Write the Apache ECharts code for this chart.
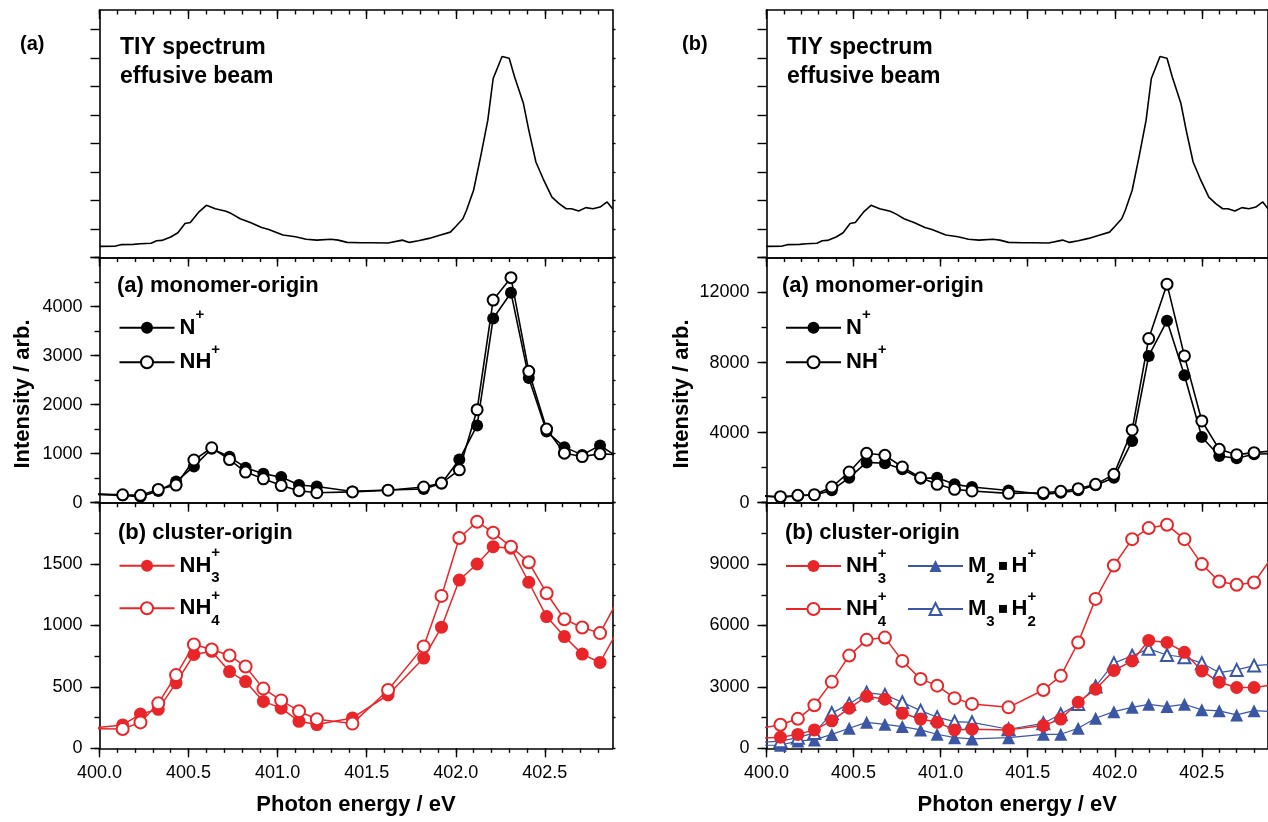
<!DOCTYPE html>
<html>
<head>
<meta charset="utf-8">
<title>TIY spectrum and partial ion yields</title>
<script src="https://cdn.jsdelivr.net/npm/echarts@6.0.0/dist/echarts.min.js"></script>
<style>
  html, body { margin: 0; padding: 0; background: #fff; }
  #main { width: 1268px; height: 822px; }
</style>
</head>
<body>
<div id="main"></div>
<script>
// ---- data ----

// TIY spectrum of the effusive beam (arbitrary units, same curve in both columns)
var tiyE = [400.00, 400.09, 400.12, 400.19, 400.23, 400.29, 400.32, 400.35, 400.40, 400.44,
            400.48, 400.51, 400.56, 400.60, 400.65, 400.71, 400.74, 400.79, 400.85, 400.91,
            400.95, 401.03, 401.10, 401.16, 401.22, 401.30, 401.34, 401.39, 401.47, 401.53,
            401.62, 401.70, 401.74, 401.79, 401.85, 401.91, 401.97, 402.00, 402.04, 402.06,
            402.10, 402.14, 402.18, 402.21, 402.26, 402.30, 402.33, 402.38, 402.41, 402.45,
            402.49, 402.54, 402.58, 402.62, 402.65, 402.69, 402.73, 402.77, 402.81, 402.85, 402.88];
var tiyI = [0.39, 0.40, 0.45, 0.46, 0.48, 0.50, 0.59, 0.60, 0.72, 0.87,
            1.19, 1.23, 1.61, 1.83, 1.71, 1.62, 1.54, 1.36, 1.22, 1.05,
            0.98, 0.79, 0.73, 0.64, 0.61, 0.64, 0.61, 0.53, 0.52, 0.52,
            0.51, 0.61, 0.53, 0.59, 0.67, 0.78, 0.89, 1.09, 1.36, 1.65,
            2.36, 3.55, 4.82, 6.28, 7.05, 6.99, 6.34, 5.40, 4.47, 3.35,
            2.77, 2.12, 1.89, 1.71, 1.71, 1.63, 1.75, 1.71, 1.77, 1.95, 1.71];

// column (a): photon energies of the ion yield points
var eA = [399.93, 400.13, 400.23, 400.33, 400.43, 400.53, 400.63, 400.73, 400.82, 400.92,
          401.02, 401.12, 401.22, 401.42, 401.62, 401.82, 401.92, 402.02, 402.12, 402.21,
          402.31, 402.41, 402.51, 402.61, 402.71, 402.81, 402.91];
var nPlusA  = [180, 150, 120, 240, 430, 740, 1100, 935, 714, 589, 522, 362, 329, 230, 260, 280, 390, 880,
               1575, 3757, 4282, 2544, 1452, 1133, 975, 1166, 930];
var nhPlusA = [180, 160, 150, 270, 360, 870, 1120, 880, 624, 487, 350, 245, 204, 220, 255, 320, 400, 670,
               1896, 4131, 4589, 2679, 1501, 1010, 941, 996, 980];
var nh3A = [160, 190, 279, 317, 533, 764, 790, 625, 543, 382, 327, 220, 193, 247, 434, 735, 986, 1370,
            1501, 1642, 1630, 1352, 1073, 910, 767, 699, 960];
var nh4A = [160, 157, 211, 366, 596, 845, 805, 756, 666, 486, 390, 302, 237, 201, 475, 830, 1241, 1713,
            1845, 1756, 1642, 1515, 1263, 1051, 984, 938, 1208];

// column (b)
var eB = [399.98, 400.08, 400.18, 400.275, 400.375, 400.475, 400.575, 400.68, 400.78, 400.885,
          400.98, 401.08, 401.18, 401.39, 401.59, 401.69, 401.79, 401.89, 401.995, 402.10,
          402.195, 402.30, 402.40, 402.50, 402.60, 402.70, 402.80, 402.90];
var nPlusB  = [380, 300, 400, 440, 705, 1429, 2300, 2250, 1905, 1372, 1429, 1048, 895, 700, 476, 572, 705, 991,
               1429, 3524, 8382, 10382, 7277, 3753, 2667, 2534, 2762, 2800];
var nhPlusB = [400, 343, 419, 457, 895, 1753, 2819, 2705, 2038, 1429, 1048, 762, 667, 533, 572, 648, 800, 1048,
               1619, 4153, 9373, 12478, 8382, 4667, 3048, 2743, 2858, 2950];
var nh3B  = [500, 540, 680, 900, 1343, 1960, 2540, 2400, 1710, 1430, 1270, 900, 930, 900, 1110, 1430, 2250, 2890,
             3800, 4270, 5270, 5170, 4690, 3780, 3230, 2970, 2970, 3100];
var nh4B  = [1000, 1150, 1440, 2100, 3247, 4530, 5300, 5410, 4270, 3390, 3060, 2450, 2170, 2000, 2850, 3540, 5170, 7300,
             8930, 10220, 10760, 10920, 10220, 9000, 8150, 7990, 8100, 9300];
var m2hB  = [150, 150, 360, 410, 680, 980, 1270, 1170, 1060, 900, 685, 520, 460, 520, 685, 685, 980, 1470,
             1790, 2000, 2150, 2040, 2150, 1880, 1830, 1630, 1840, 1800];
var m3h2B = [300, 350, 520, 750, 1720, 2170, 2720, 2610, 2250, 1840, 1520, 1300, 1270, 930, 1220, 1660, 2170, 3020,
             4160, 4520, 4860, 4560, 4450, 4160, 3700, 3830, 4040, 4100];

// tick positions and labels
var xMajor = [400, 400.5, 401, 401.5, 402, 402.5];
var xLabels = [400, 400.5, 401, 401.5, 402, 402.5];
var yMax    = [[8.684, 5000, 2000], [8.684, 14000, 12000]];
var yLabels = [[[], [0, 1000, 2000, 3000, 4000], [0, 500, 1000, 1500]],
               [[], [0, 4000, 8000, 12000], [0, 3000, 6000, 9000]]];
var yMajor  = [[[0, 1, 2, 3, 4, 5, 6, 7, 8], [0, 1000, 2000, 3000, 4000, 5000], [0, 500, 1000, 1500, 2000]],
               [[0, 1, 2, 3, 4, 5, 6, 7, 8], [0, 4000, 8000, 12000, 14000], [0, 3000, 6000, 9000, 12000]]];
var yMinorStep = [[0, 500, 250], [0, 2000, 1500]];

// ---- layout ----
var FONT = '"Liberation Sans", Arial, Helvetica, sans-serif';
var RED = '#e8262a', BLUE = '#3b56a5', BLACK = '#000';
var X_MIN = 400, X_MAX = 402.88;
var colLeft = [99.5, 766.5];
var colWidth = 513;
var rowTop = [10, 257.5, 502.7];
var rowHeight = [247.5, 245.2, 245.6];

function steps(a, b, d) {
  var out = [];
  for (var v = a; v <= b + d * 1e-6; v += d) out.push(Math.round(v * 1e4) / 1e4);
  return out;
}
var xMinor = steps(400, 402.8, 0.1);

var AX = {color: BLACK, width: 1.6};
var TK = {color: BLACK, width: 1.4};
function lbl(extra) {
  var s = {color: BLACK, fontSize: 18, fontFamily: FONT};
  for (var k in extra) s[k] = extra[k];
  return s;
}

var grids = [], xAxis = [], yAxis = [], series = [];

function valueAxis(g, min, max, pos, line, tickLen, inside, ticks, labels) {
  return {
    gridIndex: g, type: 'value', min: min, max: max, position: pos,
    axisLine: {show: line, onZero: false, lineStyle: AX},
    splitLine: {show: false},
    axisTick: {show: ticks && ticks.length > 0, inside: inside, length: tickLen, lineStyle: TK, customValues: ticks},
    axisLabel: labels ? labels : {show: false}
  };
}

function addPanel(c, r) {
  var g = grids.length;
  grids.push({left: colLeft[c], top: rowTop[r], width: colWidth, height: rowHeight[r]});
  var last = r === 2;
  var xi = xAxis.length;
  var bx = valueAxis(g, X_MIN, X_MAX, 'bottom', true, 9, false, last ? xMajor : [],
    last ? lbl({show: true, customValues: xLabels, margin: 16,
                formatter: function (v) { return v.toFixed(1); }}) : null);
  if (last) {
    bx.name = 'Photon energy / eV';
    bx.nameLocation = 'middle';
    bx.nameGap = 46;
    bx.nameTextStyle = {color: BLACK, fontSize: 22, fontWeight: 'bold', fontFamily: FONT};
  }
  xAxis.push(bx);
  xAxis.push(valueAxis(g, X_MIN, X_MAX, 'bottom', false, 4.5, false, last ? xMinor : []));
  xAxis.push(valueAxis(g, X_MIN, X_MAX, 'top', true, 9, true, xMajor));
  xAxis.push(valueAxis(g, X_MIN, X_MAX, 'top', false, 4.5, true, xMinor));

  var yi = yAxis.length;
  var labs = yLabels[c][r];
  yAxis.push(valueAxis(g, 0, yMax[c][r], 'left', true, 9, false, yMajor[c][r],
    labs.length ? lbl({show: true, customValues: labs, margin: 17,
                       formatter: function (v) { return String(v); }}) : null));
  var minor = yMinorStep[c][r] ? steps(0, yMax[c][r], yMinorStep[c][r]) : [];
  yAxis.push(valueAxis(g, 0, yMax[c][r], 'left', false, 5, false, minor));
  yAxis.push(valueAxis(g, 0, yMax[c][r], 'right', true, 3, false, minor.length ? minor : yMajor[c][r]));
  return {x: xi, y: yi};
}

function addLine(p, name, xs, ys, color, symbol, size, width) {
  var pts = [];
  for (var i = 0; i < xs.length; i++) pts.push([xs[i], ys[i]]);
  series.push({
    name: name, type: 'line', xAxisIndex: p.x, yAxisIndex: p.y, data: pts,
    symbol: symbol, symbolSize: size, showSymbol: symbol !== 'none', clip: true,
    silent: true, animation: false, emphasis: {disabled: true},
    lineStyle: {color: color, width: width},
    itemStyle: {color: color, borderWidth: symbol.indexOf('empty') === 0 ? 1.8 : 0}
  });
}

var pA = [addPanel(0, 0), addPanel(0, 1), addPanel(0, 2)];
var pB = [addPanel(1, 0), addPanel(1, 1), addPanel(1, 2)];

addLine(pA[0], 'tiyA', tiyE, tiyI, BLACK, 'none', 0, 1.6);
addLine(pB[0], 'tiyB', tiyE, tiyI, BLACK, 'none', 0, 1.6);

addLine(pA[1], 'aN', eA, nPlusA, BLACK, 'circle', 12, 1.6);
addLine(pA[1], 'aNH', eA, nhPlusA, BLACK, 'emptyCircle', 11, 1.6);
addLine(pA[2], 'aNH3', eA, nh3A, RED, 'circle', 13, 1.5);
addLine(pA[2], 'aNH4', eA, nh4A, RED, 'emptyCircle', 12, 1.5);

addLine(pB[1], 'bN', eB, nPlusB, BLACK, 'circle', 12, 1.6);
addLine(pB[1], 'bNH', eB, nhPlusB, BLACK, 'emptyCircle', 11, 1.6);
addLine(pB[2], 'bM2H', eB, m2hB, BLUE, 'triangle', 13, 1.2);
addLine(pB[2], 'bM3H2', eB, m3h2B, BLUE, 'emptyTriangle', 12, 1.2);
addLine(pB[2], 'bNH3', eB, nh3B, RED, 'circle', 13, 1.5);
addLine(pB[2], 'bNH4', eB, nh4B, RED, 'emptyCircle', 12, 1.5);

// ---- legends: one per entry so each sits where it does in the figure ----
var RICH = {
  b:  {fontSize: 22, fontWeight: 'bold', fontFamily: FONT, color: BLACK, lineHeight: 40},
  sp: {fontSize: 15, fontWeight: 'bold', fontFamily: FONT, color: BLACK, lineHeight: 28, verticalAlign: 'top'},
  sz: {fontSize: 15, fontWeight: 'bold', fontFamily: FONT, color: BLACK, lineHeight: 12, verticalAlign: 'top', width: 0},
  sb: {fontSize: 15, fontWeight: 'bold', fontFamily: FONT, color: BLACK, lineHeight: 20, verticalAlign: 'bottom'},
  dt: {fontSize: 16, fontWeight: 'bold', fontFamily: 'DejaVu Sans', color: BLACK, lineHeight: 40, padding: [0, 3, 0, 3]}
};
var legendText = {
  aN: '{b|N}{sp|+}', bN: '{b|N}{sp|+}',
  aNH: '{b|NH}{sp|+}', bNH: '{b|NH}{sp|+}',
  aNH3: '{b|NH}{sz|+}{sb|3}', bNH3: '{b|NH}{sz|+}{sb|3}',
  aNH4: '{b|NH}{sz|+}{sb|4}', bNH4: '{b|NH}{sz|+}{sb|4}',
  bM2H: '{b|M}{sb|2}{dt|\u25AA}{b|H}{sp|+}',
  bM3H2: '{b|M}{sb|3}{dt|\u25AA}{b|H}{sz|+}{sb|2}'
};
var legend = [];
function addLegend(name, left, top) {
  legend.push({
    data: [name], left: left, top: top, orient: 'vertical', padding: 0,
    itemWidth: 55, itemHeight: 15, selectedMode: false,
    formatter: function (n) { return legendText[n]; },
    textStyle: {color: BLACK, fontSize: 22, fontWeight: 'bold', fontFamily: FONT, rich: RICH}
  });
}
addLegend('aN', 118.5, 307.7);
addLegend('aNH', 118.5, 342.3);
addLegend('aNH3', 118.5, 545.7);
addLegend('aNH4', 118.5, 588.3);
addLegend('bN', 785, 307.7);
addLegend('bNH', 785, 342.3);
addLegend('bNH3', 785, 546);
addLegend('bNH4', 785, 589);
addLegend('bM2H', 907, 546);
addLegend('bM3H2', 907, 589);

// ---- free text ----
function txt(text, x, y, size, rot) {
  return {
    type: 'text', x: x, y: y, rotation: rot || 0, silent: true, z: 10,
    style: {text: text, fill: BLACK, font: 'bold ' + size + 'px ' + FONT,
            align: rot ? 'center' : 'left', verticalAlign: 'middle'}
  };
}
var graphic = [
  txt('(a)', 20, 44, 20), txt('(b)', 682, 44, 20),
  txt('TIY spectrum', 120, 48, 23), txt('effusive beam', 120, 77, 23),
  txt('TIY spectrum', 787, 48, 23), txt('effusive beam', 787, 77, 23),
  txt('(a) monomer-origin', 117, 285.5, 22), txt('(b) cluster-origin', 118, 532.5, 22),
  txt('(a) monomer-origin', 782, 285.5, 22), txt('(b) cluster-origin', 785, 532.5, 22),
  txt('Intensity / arb.', 23, 394, 22, Math.PI / 2),
  txt('Intensity / arb.', 681.5, 394, 22, Math.PI / 2)
];

var chart = echarts.init(document.getElementById('main'));
chart.setOption({
  backgroundColor: '#fff',
  animation: false,
  grid: grids,
  xAxis: xAxis,
  yAxis: yAxis,
  legend: legend,
  graphic: graphic,
  series: series
});
</script>
</body>
</html>
